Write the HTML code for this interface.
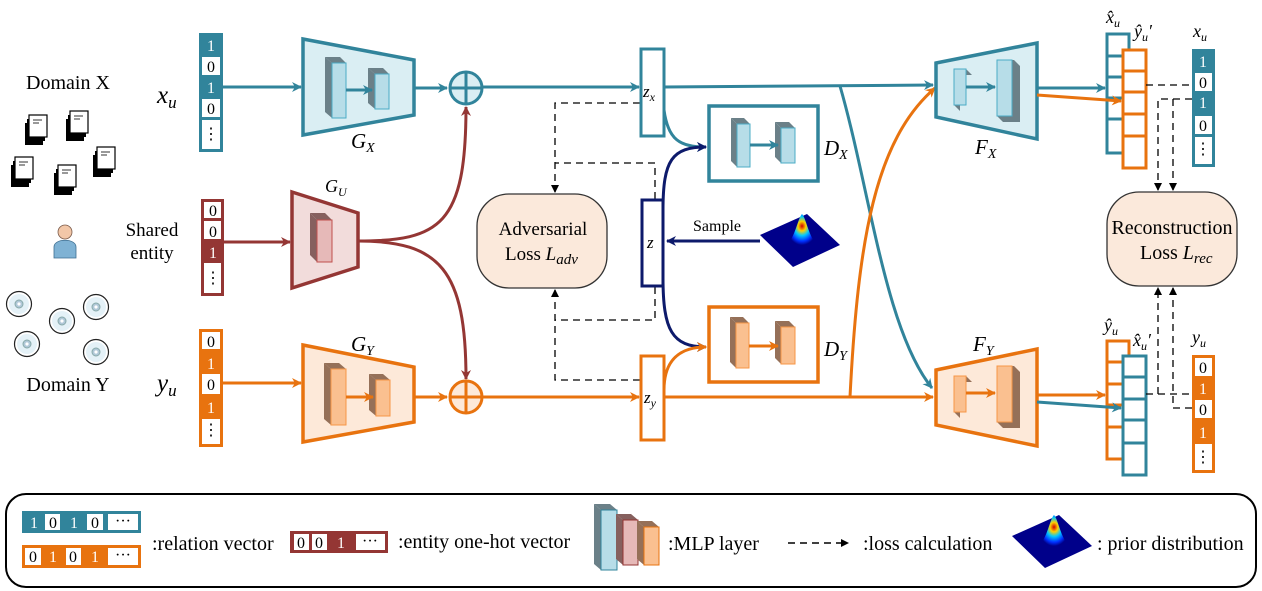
<!DOCTYPE html>
<html><head><meta charset="utf-8"><style>
html,body{margin:0;padding:0;background:#fff}
svg{display:block}
text{font-family:"Liberation Serif",serif;fill:#000}
.m{font-style:italic}
</style></head><body>
<svg width="1262" height="591" viewBox="0 0 1262 591" xmlns="http://www.w3.org/2000/svg">
<defs>
<marker id="aT" markerWidth="10" markerHeight="10" refX="9" refY="5" orient="auto" markerUnits="userSpaceOnUse" viewBox="0 0 10 10"><path d="M0,0 L10,5 L0,10 L3,5z" fill="#31849B"/></marker>
<marker id="aO" markerWidth="10" markerHeight="10" refX="9" refY="5" orient="auto" markerUnits="userSpaceOnUse" viewBox="0 0 10 10"><path d="M0,0 L10,5 L0,10 L3,5z" fill="#E8730F"/></marker>
<marker id="aB" markerWidth="10" markerHeight="10" refX="9" refY="5" orient="auto" markerUnits="userSpaceOnUse" viewBox="0 0 10 10"><path d="M0,0 L10,5 L0,10 L3,5z" fill="#943634"/></marker>
<marker id="aN" markerWidth="10" markerHeight="10" refX="9" refY="5" orient="auto" markerUnits="userSpaceOnUse" viewBox="0 0 10 10"><path d="M0,0 L10,5 L0,10 L3,5z" fill="#0D1A6B"/></marker>
<marker id="aK" markerWidth="8" markerHeight="8" refX="7" refY="4" orient="auto" markerUnits="userSpaceOnUse" viewBox="0 0 8 8"><path d="M0,0 L8,4 L0,8z" fill="#000"/></marker>
<radialGradient id="peak" cx="0.5" cy="0.35" r="0.55">
<stop offset="0" stop-color="#d00000"/><stop offset="0.25" stop-color="#ffd000"/><stop offset="0.5" stop-color="#00c8ff"/><stop offset="0.8" stop-color="#0030ff"/><stop offset="1" stop-color="#00008a"/>
</radialGradient>
<g id="prior">
<polygon points="0,21 47,0 80,31 33,53" fill="#00008a"/>
<path d="M28,30 C36,20 38,4 42,0 C46,4 48,20 56,30 C50,36 34,36 28,30z" fill="url(#peak)"/>
</g>
<g id="doc">
<rect x="0" y="8" width="18" height="22" fill="#000"/>
<rect x="2" y="4" width="18" height="22" fill="#000"/>
<rect x="4" y="0" width="18" height="22" fill="#fff" stroke="#000" stroke-width="1.2"/>
<line x1="8" y1="5" x2="17" y2="5" stroke="#555" stroke-width="1.2"/><line x1="8" y1="8" x2="14" y2="8" stroke="#555" stroke-width="1.2"/>
</g>
<g id="cd">
<circle r="12.5" fill="#fff" stroke="#222" stroke-width="1.2"/>
<circle r="10" fill="#e4f1f7"/>
<circle r="4" fill="#b0c8d8" stroke="#8aa" stroke-width="1"/><circle r="1.6" fill="#fff"/>
</g>
</defs>

<!-- left icons -->
<text x="68" y="89" font-size="20" text-anchor="middle">Domain X</text>
<use href="#doc" x="25" y="115"/><use href="#doc" x="66" y="111"/><use href="#doc" x="11" y="157"/><use href="#doc" x="54" y="165"/><use href="#doc" x="93" y="147"/>
<circle cx="65" cy="232" r="7" fill="#f2c7a8" stroke="#7a5a4a" stroke-width="0.8"/>
<path d="M54,258 L54,247 C54,238 76,238 76,247 L76,258z" fill="#7fb2d4" stroke="#3f6f91" stroke-width="0.8"/>
<use href="#cd" x="19" y="304"/><use href="#cd" x="62" y="321"/><use href="#cd" x="96" y="307"/><use href="#cd" x="27" y="344"/><use href="#cd" x="96" y="352"/>
<text x="68" y="391" font-size="20" text-anchor="middle">Domain Y</text>

<text x="157" y="103" font-size="25" class="m">x<tspan font-size="17" dy="5">u</tspan></text>
<text x="152" y="236" font-size="19" text-anchor="middle">Shared</text>
<text x="152" y="259" font-size="19" text-anchor="middle">entity</text>
<text x="157" y="391" font-size="25" class="m">y<tspan font-size="17" dy="5">u</tspan></text>

<!-- x_u vector -->
<rect x="199" y="33" width="24" height="119" fill="#31849B"/>
<rect x="202" y="57" width="18" height="18" fill="#fff"/><rect x="202" y="99" width="18" height="18" fill="#fff"/><rect x="202" y="120" width="18" height="29" fill="#fff"/>
<g font-size="16" text-anchor="middle"><text x="211" y="51" style="fill:#fff">1</text><text x="211" y="72">0</text><text x="211" y="93" style="fill:#fff">1</text><text x="211" y="114">0</text><text x="211" y="139">⋮</text></g>

<!-- shared entity vector -->
<rect x="201" y="199" width="23" height="97" fill="#943634"/>
<rect x="204" y="202" width="17" height="16" fill="#fff"/><rect x="204" y="221" width="17" height="18" fill="#fff"/><rect x="204" y="263" width="17" height="30" fill="#fff"/>
<g font-size="16" text-anchor="middle"><text x="213" y="216">0</text><text x="213" y="237">0</text><text x="213" y="258" style="fill:#fff">1</text><text x="213" y="283">⋮</text></g>

<!-- y_u vector -->
<rect x="199" y="329" width="24" height="118" fill="#E8730F"/>
<rect x="202" y="332" width="18" height="17" fill="#fff"/><rect x="202" y="374" width="18" height="20" fill="#fff"/><rect x="202" y="419" width="18" height="25" fill="#fff"/>
<g font-size="16" text-anchor="middle"><text x="211" y="347">0</text><text x="211" y="369" style="fill:#fff">1</text><text x="211" y="390">0</text><text x="211" y="413" style="fill:#fff">1</text><text x="211" y="435">⋮</text></g>

<!-- G_X -->
<line x1="223" y1="87" x2="301" y2="87" stroke="#31849B" stroke-width="3" marker-end="url(#aT)"/>
<polygon points="303,39 414,60 414,115 303,135" fill="#DAEEF3" stroke="#31849B" stroke-width="3.5"/>
<polygon points="325,57 332,63 332,118 325,112" fill="#6b8088"/><polygon points="325,57 340,57 346,63 332,63" fill="#6b8088"/><rect x="332" y="63" width="14" height="55" fill="#B7DDE8" stroke="#4bacc6" stroke-width="1"/>
<polygon points="368,68 375,74 375,109 368,103" fill="#6b8088"/><polygon points="368,68 383,68 389,74 375,74" fill="#6b8088"/><rect x="375" y="74" width="14" height="35" fill="#B7DDE8" stroke="#4bacc6" stroke-width="1"/>
<line x1="346" y1="90" x2="372" y2="90" stroke="#31849B" stroke-width="3" marker-end="url(#aT)"/>
<text x="351" y="148" font-size="21" class="m">G<tspan font-size="14" dy="4">X</tspan></text>
<line x1="414" y1="88" x2="447" y2="88" stroke="#31849B" stroke-width="3" marker-end="url(#aT)"/>
<circle cx="466" cy="88" r="16" fill="#DAEEF3" stroke="#31849B" stroke-width="3"/>
<line x1="450" y1="88" x2="482" y2="88" stroke="#31849B" stroke-width="3"/><line x1="466" y1="72" x2="466" y2="104" stroke="#31849B" stroke-width="3"/>
<line x1="482" y1="87" x2="639" y2="87" stroke="#31849B" stroke-width="3" marker-end="url(#aT)"/>

<!-- G_U -->
<line x1="224" y1="242" x2="290" y2="242" stroke="#943634" stroke-width="3" marker-end="url(#aB)"/>
<polygon points="292,192 358,213 358,267 292,288" fill="#F2DCDB" stroke="#943634" stroke-width="3.5"/>
<polygon points="310,213 317,220 317,262 310,255" fill="#86605e"/><polygon points="310,213 325,213 332,220 317,220" fill="#86605e"/><rect x="317" y="220" width="15" height="42" fill="#E6B9B8" stroke="#c0504d" stroke-width="1"/>
<text x="325" y="192" font-size="18" class="m">G<tspan font-size="12" dy="4">U</tspan></text>
<path d="M358,241 C440,241 466,225 466,107" fill="none" stroke="#943634" stroke-width="3" marker-end="url(#aB)"/>
<path d="M358,241 C440,241 466,270 466,379" fill="none" stroke="#943634" stroke-width="3" marker-end="url(#aB)"/>

<!-- G_Y -->
<line x1="223" y1="383" x2="301" y2="383" stroke="#E8730F" stroke-width="3" marker-end="url(#aO)"/>
<polygon points="303,345 414,367 414,422 303,442" fill="#FDE9D9" stroke="#E8730F" stroke-width="3.5"/>
<polygon points="324,363 331,369 331,425 324,419" fill="#957058"/><polygon points="324,363 339,363 346,369 331,369" fill="#957058"/><rect x="331" y="369" width="15" height="56" fill="#FAC090" stroke="#f79646" stroke-width="1"/>
<polygon points="369,374 376,380 376,416 369,410" fill="#957058"/><polygon points="369,374 383,374 390,380 376,380" fill="#957058"/><rect x="376" y="380" width="14" height="36" fill="#FAC090" stroke="#f79646" stroke-width="1"/>
<line x1="346" y1="397" x2="373" y2="397" stroke="#E8730F" stroke-width="3" marker-end="url(#aO)"/>
<text x="351" y="351" font-size="21" class="m">G<tspan font-size="14" dy="4">Y</tspan></text>
<line x1="414" y1="397" x2="447" y2="397" stroke="#E8730F" stroke-width="3" marker-end="url(#aO)"/>
<circle cx="466" cy="397" r="16" fill="#FDE9D9" stroke="#E8730F" stroke-width="3"/>
<line x1="450" y1="397" x2="482" y2="397" stroke="#E8730F" stroke-width="3"/><line x1="466" y1="381" x2="466" y2="413" stroke="#E8730F" stroke-width="3"/>
<line x1="482" y1="397" x2="639" y2="397" stroke="#E8730F" stroke-width="3" marker-end="url(#aO)"/>

<!-- Adversarial loss -->
<rect x="477" y="194" width="130" height="94" rx="32" fill="#FBE9DB" stroke="#333" stroke-width="1.3"/>
<text x="543" y="235" font-size="19" text-anchor="middle">Adversarial</text>
<text x="505" y="260" font-size="19">Loss <tspan class="m">L</tspan><tspan class="m" font-size="15" dy="4">adv</tspan></text>
<g fill="none" stroke="#000" stroke-width="1.3" stroke-dasharray="7,5">
<path d="M640,103 L555,103 L555,192" marker-end="url(#aK)"/>
<path d="M655,199 L655,163 L555,163"/>
<path d="M655,287 L655,320 L555,320"/>
<path d="M640,380 L555,380 L555,290" marker-end="url(#aK)"/>
</g>

<!-- z boxes -->
<rect x="641" y="49" width="23" height="87" fill="#fff" stroke="#31849B" stroke-width="3"/>
<text x="643" y="97" font-size="17" class="m">z<tspan font-size="12" dy="4">x</tspan></text>
<rect x="642" y="200" width="21" height="86" fill="#fff" stroke="#0D1A6B" stroke-width="3"/>
<text x="647" y="248" font-size="17" class="m">z</text>
<rect x="641" y="356" width="23" height="84" fill="#fff" stroke="#E8730F" stroke-width="3"/>
<text x="644" y="403" font-size="17" class="m">z<tspan font-size="12" dy="4">y</tspan></text>

<!-- D_X / D_Y -->
<path d="M664,110 C668,140 680,147 706,147" fill="none" stroke="#31849B" stroke-width="3" marker-end="url(#aT)"/>
<path d="M663,210 C663,160 672,147 706,147" fill="none" stroke="#0D1A6B" stroke-width="3" marker-end="url(#aN)"/>
<path d="M663,278 C663,330 672,347 706,347" fill="none" stroke="#0D1A6B" stroke-width="3" marker-end="url(#aN)"/>
<path d="M664,390 C664,360 680,347 706,347" fill="none" stroke="#E8730F" stroke-width="3" marker-end="url(#aO)"/>
<rect x="709" y="106" width="109" height="75" fill="#fff" stroke="#31849B" stroke-width="3.5"/>
<polygon points="731,118 737,124 737,167 731,161" fill="#6b8088"/><polygon points="731,118 744,118 750,124 737,124" fill="#6b8088"/><rect x="737" y="124" width="13" height="43" fill="#B7DDE8" stroke="#4bacc6" stroke-width="1"/>
<polygon points="775,122 781,128 781,163 775,157" fill="#6b8088"/><polygon points="775,122 789,122 795,128 781,128" fill="#6b8088"/><rect x="781" y="128" width="14" height="35" fill="#B7DDE8" stroke="#4bacc6" stroke-width="1"/>
<line x1="750" y1="145" x2="778" y2="145" stroke="#31849B" stroke-width="3" marker-end="url(#aT)"/>
<text x="824" y="155" font-size="21" class="m">D<tspan font-size="14" dy="4">X</tspan></text>
<rect x="709" y="307" width="109" height="75" fill="#fff" stroke="#E8730F" stroke-width="3.5"/>
<polygon points="730,317 736,323 736,368 730,362" fill="#957058"/><polygon points="730,317 743,317 749,323 736,323" fill="#957058"/><rect x="736" y="323" width="13" height="45" fill="#FAC090" stroke="#f79646" stroke-width="1"/>
<polygon points="775,321 781,327 781,364 775,358" fill="#957058"/><polygon points="775,321 789,321 795,327 781,327" fill="#957058"/><rect x="781" y="327" width="14" height="37" fill="#FAC090" stroke="#f79646" stroke-width="1"/>
<line x1="749" y1="346" x2="778" y2="346" stroke="#E8730F" stroke-width="3" marker-end="url(#aO)"/>
<text x="824" y="356" font-size="21" class="m">D<tspan font-size="14" dy="4">Y</tspan></text>

<!-- sample -->
<line x1="760" y1="241" x2="667" y2="241" stroke="#0D1A6B" stroke-width="3" marker-end="url(#aN)"/>
<text x="693" y="231" font-size="16">Sample</text>
<use href="#prior" x="760" y="214"/>

<!-- long lines -->
<line x1="664" y1="87" x2="933" y2="85" stroke="#31849B" stroke-width="3" marker-end="url(#aT)"/>
<path d="M840,86 C870,190 885,330 932,388" fill="none" stroke="#31849B" stroke-width="3" marker-end="url(#aT)"/>
<line x1="664" y1="397" x2="933" y2="397" stroke="#E8730F" stroke-width="3" marker-end="url(#aO)"/>
<path d="M850,397 C858,240 875,140 935,88" fill="none" stroke="#E8730F" stroke-width="3" marker-end="url(#aO)"/>

<!-- F_X -->
<polygon points="936,63 1037,43 1037,139 936,117" fill="#DAEEF3" stroke="#31849B" stroke-width="3.5"/>
<polygon points="954,69 960,75 960,111 954,105" fill="#6b8088"/><polygon points="954,69 966,69 972,75 960,75" fill="#6b8088"/><rect x="954" y="69" width="12" height="36" fill="#B7DDE8" stroke="#4bacc6" stroke-width="1"/>
<polygon points="997,60 1014,60 1020,66 1020,122 1003,122 997,116" fill="#6b8088"/><rect x="997" y="60" width="15" height="56" fill="#B7DDE8" stroke="#4bacc6" stroke-width="1"/>
<line x1="966" y1="87" x2="995" y2="87" stroke="#31849B" stroke-width="3" marker-end="url(#aT)"/>
<text x="975" y="154" font-size="21" class="m">F<tspan font-size="14" dy="4">X</tspan></text>
<!-- F_Y -->
<polygon points="936,370 1037,349 1037,446 936,425" fill="#FDE9D9" stroke="#E8730F" stroke-width="3.5"/>
<polygon points="954,376 960,382 960,418 954,412" fill="#957058"/><polygon points="954,376 966,376 972,382 960,382" fill="#957058"/><rect x="954" y="376" width="12" height="36" fill="#FAC090" stroke="#f79646" stroke-width="1"/>
<polygon points="997,366 1014,366 1020,372 1020,428 1003,428 997,422" fill="#957058"/><rect x="997" y="366" width="15" height="56" fill="#FAC090" stroke="#f79646" stroke-width="1"/>
<line x1="966" y1="393" x2="995" y2="393" stroke="#E8730F" stroke-width="3" marker-end="url(#aO)"/>
<text x="973" y="351" font-size="21" class="m">F<tspan font-size="14" dy="4">Y</tspan></text>

<!-- outputs top -->
<g fill="#fff" stroke="#31849B" stroke-width="3">
<rect x="1107" y="34" width="22" height="119"/>
<line x1="1107" y1="56" x2="1129" y2="56"/><line x1="1107" y1="77" x2="1129" y2="77"/><line x1="1107" y1="98" x2="1129" y2="98"/><line x1="1107" y1="119" x2="1129" y2="119"/>
</g>
<line x1="1037" y1="88" x2="1105" y2="88" stroke="#31849B" stroke-width="3" marker-end="url(#aT)"/>
<g fill="#fff" stroke="#E8730F" stroke-width="3">
<rect x="1123" y="50" width="23" height="118"/>
<line x1="1123" y1="71" x2="1146" y2="71"/><line x1="1123" y1="92" x2="1146" y2="92"/><line x1="1123" y1="114" x2="1146" y2="114"/><line x1="1123" y1="136" x2="1146" y2="136"/>
</g>
<line x1="1037" y1="95" x2="1121" y2="101" stroke="#E8730F" stroke-width="3" marker-end="url(#aO)"/>
<text x="1106" y="23" font-size="18" class="m">x̂<tspan font-size="12" dy="4">u</tspan></text>
<text x="1134" y="37" font-size="18" class="m">ŷ<tspan font-size="12" dy="4">u</tspan><tspan dy="-4">′</tspan></text>
<text x="1193" y="37" font-size="18" class="m">x<tspan font-size="12" dy="4">u</tspan></text>
<rect x="1192" y="49" width="23" height="118" fill="#31849B"/>
<rect x="1195" y="73" width="17" height="18" fill="#fff"/><rect x="1195" y="116" width="17" height="18" fill="#fff"/><rect x="1195" y="137" width="17" height="27" fill="#fff"/>
<g font-size="16" text-anchor="middle"><text x="1203" y="67" style="fill:#fff">1</text><text x="1203" y="88">0</text><text x="1203" y="108" style="fill:#fff">1</text><text x="1203" y="131">0</text><text x="1203" y="154">⋮</text></g>

<!-- outputs bottom -->
<g fill="#fff" stroke="#E8730F" stroke-width="3">
<rect x="1107" y="341" width="22" height="118"/>
<line x1="1107" y1="362" x2="1129" y2="362"/><line x1="1107" y1="384" x2="1129" y2="384"/><line x1="1107" y1="405" x2="1129" y2="405"/><line x1="1107" y1="427" x2="1129" y2="427"/>
</g>
<line x1="1037" y1="395" x2="1105" y2="395" stroke="#E8730F" stroke-width="3" marker-end="url(#aO)"/>
<g fill="#fff" stroke="#31849B" stroke-width="3">
<rect x="1123" y="356" width="23" height="119"/>
<line x1="1123" y1="377" x2="1146" y2="377"/><line x1="1123" y1="399" x2="1146" y2="399"/><line x1="1123" y1="420" x2="1146" y2="420"/><line x1="1123" y1="443" x2="1146" y2="443"/>
</g>
<line x1="1037" y1="402" x2="1121" y2="408" stroke="#31849B" stroke-width="3" marker-end="url(#aT)"/>
<text x="1104" y="331" font-size="18" class="m">ŷ<tspan font-size="12" dy="4">u</tspan></text>
<text x="1133" y="346" font-size="18" class="m">x̂<tspan font-size="12" dy="4">u</tspan><tspan dy="-4">′</tspan></text>
<text x="1192" y="343" font-size="18" class="m">y<tspan font-size="12" dy="4">u</tspan></text>
<rect x="1192" y="355" width="23" height="118" fill="#E8730F"/>
<rect x="1195" y="358" width="17" height="18" fill="#fff"/><rect x="1195" y="400" width="17" height="18" fill="#fff"/><rect x="1195" y="444" width="17" height="26" fill="#fff"/>
<g font-size="16" text-anchor="middle"><text x="1203" y="373">0</text><text x="1203" y="394" style="fill:#fff">1</text><text x="1203" y="415">0</text><text x="1203" y="438" style="fill:#fff">1</text><text x="1203" y="462">⋮</text></g>

<!-- reconstruction -->
<rect x="1107" y="192" width="130" height="94" rx="32" fill="#FBE9DB" stroke="#333" stroke-width="1.3"/>
<text x="1172" y="234" font-size="20" text-anchor="middle">Reconstruction</text>
<text x="1140" y="259" font-size="20">Loss <tspan class="m">L</tspan><tspan class="m" font-size="15" dy="4">rec</tspan></text>
<g fill="none" stroke="#000" stroke-width="1.3" stroke-dasharray="7,5">
<path d="M1146,85 L1192,85"/>
<path d="M1192,99 L1158,99 L1158,190" marker-end="url(#aK)"/>
<path d="M1173,99 L1173,190" marker-end="url(#aK)"/>
<path d="M1146,394 L1192,394"/>
<path d="M1158,394 L1158,288" marker-end="url(#aK)"/>
<path d="M1192,408 L1173,408 L1173,288" marker-end="url(#aK)"/>
</g>

<!-- legend -->
<rect x="6" y="494" width="1250" height="93" rx="20" fill="#fff" stroke="#000" stroke-width="2"/>
<rect x="22" y="511" width="119" height="22" fill="#31849B"/>
<rect x="45" y="514" width="15" height="16" fill="#fff"/><rect x="87" y="514" width="16" height="16" fill="#fff"/><rect x="108" y="514" width="30" height="16" fill="#fff"/>
<g font-size="16" text-anchor="middle"><text x="34" y="528" style="fill:#fff">1</text><text x="53" y="528">0</text><text x="74" y="528" style="fill:#fff">1</text><text x="95" y="528">0</text><text x="123" y="526">···</text></g>
<rect x="22" y="545" width="119" height="23" fill="#E8730F"/>
<rect x="25" y="548" width="16" height="17" fill="#fff"/><rect x="66" y="548" width="15" height="17" fill="#fff"/><rect x="108" y="548" width="30" height="17" fill="#fff"/>
<g font-size="16" text-anchor="middle"><text x="33" y="562">0</text><text x="53" y="562" style="fill:#fff">1</text><text x="73" y="562">0</text><text x="95" y="562" style="fill:#fff">1</text><text x="123" y="560">···</text></g>
<text x="152" y="550" font-size="20">:relation vector</text>
<rect x="290" y="531" width="98" height="22" fill="#943634"/>
<rect x="294" y="534" width="15" height="16" fill="#fff"/><rect x="312" y="534" width="15" height="16" fill="#fff"/><rect x="356" y="534" width="29" height="16" fill="#fff"/>
<g font-size="16" text-anchor="middle"><text x="301" y="548">0</text><text x="319" y="548">0</text><text x="341" y="548" style="fill:#fff">1</text><text x="370" y="546">···</text></g>
<text x="398" y="548" font-size="20">:entity one-hot vector</text>
<polygon points="594,504 601,510 601,570 594,564" fill="#6b8088"/><polygon points="594,504 610,504 617,510 601,510" fill="#6b8088"/><rect x="601" y="510" width="16" height="60" fill="#B7DDE8" stroke="#31849B" stroke-width="1"/>
<polygon points="616,514 623,520 623,565 616,559" fill="#86605e"/><polygon points="616,514 631,514 638,520 623,520" fill="#86605e"/><rect x="623" y="520" width="15" height="45" fill="#E6B9B8" stroke="#943634" stroke-width="1"/>
<polygon points="637,521 644,527 644,565 637,559" fill="#957058"/><polygon points="637,521 652,521 659,527 644,527" fill="#957058"/><rect x="644" y="527" width="15" height="38" fill="#FAC090" stroke="#E8730F" stroke-width="1"/>
<text x="668" y="550" font-size="20">:MLP layer</text>
<line x1="788" y1="543" x2="848" y2="543" stroke="#000" stroke-width="1.5" stroke-dasharray="7,5" marker-end="url(#aK)"/>
<text x="863" y="550" font-size="20">:loss calculation</text>
<use href="#prior" x="1012" y="515"/>
<text x="1097" y="550" font-size="20">: prior distribution</text>
</svg>
</body></html>
